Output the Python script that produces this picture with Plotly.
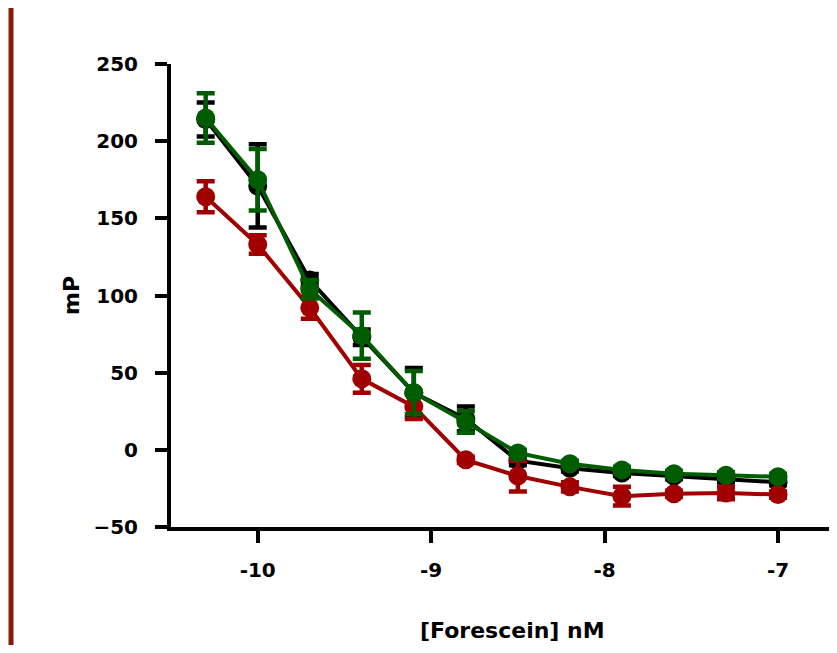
import plotly.graph_objects as go

# Data (log concentration, mP)
log_conc = [-10.3, -10.0, -9.7, -9.4, -9.1, -8.8, -8.5, -8.2, -7.9, -7.6, -7.3, -7.0]

black_mp = [214, 171, 110, 73, 37, 20, -7, -12, -15, -17, -19, -21]
black_err = [11, 27, 4, 5, 16, 8, 3, 2, 2, 2, 2, 2]

red_mp = [164, 133, 92, 46, 28, -6.5, -17, -24, -30, -28.5, -28, -29]
red_err = [10, 6, 7, 9, 8, 2, 10, 3, 6, 2, 4, 2]

green_mp = [215, 175, 104, 74, 37, 18, -2, -9, -13, -15.5, -16.5, -17.5]
green_err = [16, 20, 6, 15, 14, 7, 2, 2, 2, 2, 2, 2]

x_ticks = [-10, -9, -8, -7]
y_ticks = [-50, 0, 50, 100, 150, 200, 250]
x_title = "[Forescein] nM"
y_title = "mP"

series = [
    ("Black", black_mp, black_err, "#000000"),
    ("Red", red_mp, red_err, "#A00000"),
    ("Green", green_mp, green_err, "#005C00"),
]

fig = go.Figure()
for name, vals, errs, col in series:
    fig.add_trace(go.Scatter(
        x=log_conc, y=vals, name=name, mode="lines+markers",
        line=dict(color=col, width=4),
        marker=dict(color=col, size=19, symbol="circle"),
        error_y=dict(type="data", array=errs, visible=True,
                     color=col, thickness=4.5, width=9),
        showlegend=False,
    ))

font_family = "DejaVu Sans, Liberation Sans, Arial, sans-serif"

fig.update_layout(
    width=829, height=637,
    margin=dict(l=163, r=0, t=56, b=118, autoexpand=False),
    paper_bgcolor="white", plot_bgcolor="white",
    font=dict(family=font_family, color="black"),
    xaxis=dict(
        range=[-10.5, -6.66], tickvals=x_ticks,
        ticktext=[str(v) for v in x_ticks],
        showline=True, linewidth=4, linecolor="black",
        ticks="outside", ticklen=12, tickwidth=4, tickcolor="black",
        showgrid=False, zeroline=False,
        tickfont=dict(size=20, weight="bold"),
        ticklabelstandoff=10,
    ),
    yaxis=dict(
        range=[-50, 250], tickvals=y_ticks,
        showline=True, linewidth=4, linecolor="black",
        ticks="outside", ticklen=12, tickwidth=4, tickcolor="black",
        showgrid=False, zeroline=False,
        tickfont=dict(size=20, weight="bold"),
        ticklabelstandoff=13,
    ),
)

# Axis titles as annotations (fixed placement)
fig.add_annotation(text=x_title, xref="paper", yref="paper",
                   x=0.5135, y=-0.2246, xanchor="center", yanchor="middle",
                   showarrow=False, font=dict(size=22, weight="bold"))
fig.add_annotation(text=y_title, xref="paper", yref="paper",
                   x=-0.1486, y=0.499, xanchor="center", yanchor="middle",
                   textangle=-90, showarrow=False,
                   font=dict(size=22, weight="bold"))

# Decorative dark red vertical bar at the left edge
fig.add_shape(type="line", xref="paper", yref="paper",
              x0=-0.2402, x1=-0.2402, y0=-0.3, y1=1.2,
              line=dict(color="#8B1A0C", width=5))

fig.write_html("out.html")
